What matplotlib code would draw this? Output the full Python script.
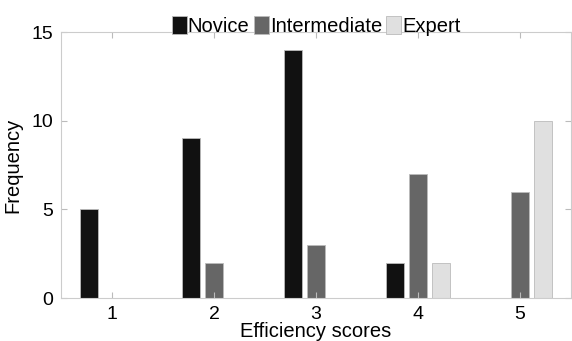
import matplotlib
matplotlib.use("Agg")
import matplotlib.pyplot as plt
import numpy as np

plt.rcParams['font.family'] = ['Liberation Sans', 'DejaVu Sans']

categories = [1, 2, 3, 4, 5]
novice = [5, 9, 14, 2, 0]
intermediate = [0, 2, 3, 7, 6]
expert = [0, 0, 0, 2, 10]
series_names = ["Novice", "Intermediate", "Expert"]
colors = ["#111111", "#666666", "#e0e0e0"]

fig = plt.figure(figsize=(5.72, 3.41), dpi=100)
ax = fig.add_axes([0.107, 0.126, 0.891, 0.780])

x = np.array(categories, dtype=float)
w = 0.18
offs = [-0.225, 0.0, 0.225]
for vals, name, c, o in zip([novice, intermediate, expert], series_names, colors, offs):
    ax.bar(x + o, vals, width=w, color=c, edgecolor="#bbbbbb", linewidth=0.6, label=name)

ax.set_xlim(0.5, 5.5)
ax.set_ylim(0, 15)
ax.set_xticks(categories)
ax.set_yticks([0, 5, 10, 15])
ax.tick_params(direction='in', length=4, color='#bbbbbb', labelsize=14,
               top=True, right=True, pad=6)
for s in ax.spines.values():
    s.set_color('#cccccc')
    s.set_linewidth(0.8)

ax.set_xlabel("Efficiency scores", fontsize=14.5, labelpad=-1)
ax.set_ylabel("Frequency", fontsize=14.5, labelpad=6)

leg = ax.legend(loc='lower center', bbox_to_anchor=(0.5, 0.985), ncol=3, frameon=False,
                fontsize=14.5, handlelength=0.75, handleheight=1.0, handletextpad=0.05,
                columnspacing=0.2, borderaxespad=0.0, borderpad=0.0)

fig.savefig("out.png", dpi=100)
